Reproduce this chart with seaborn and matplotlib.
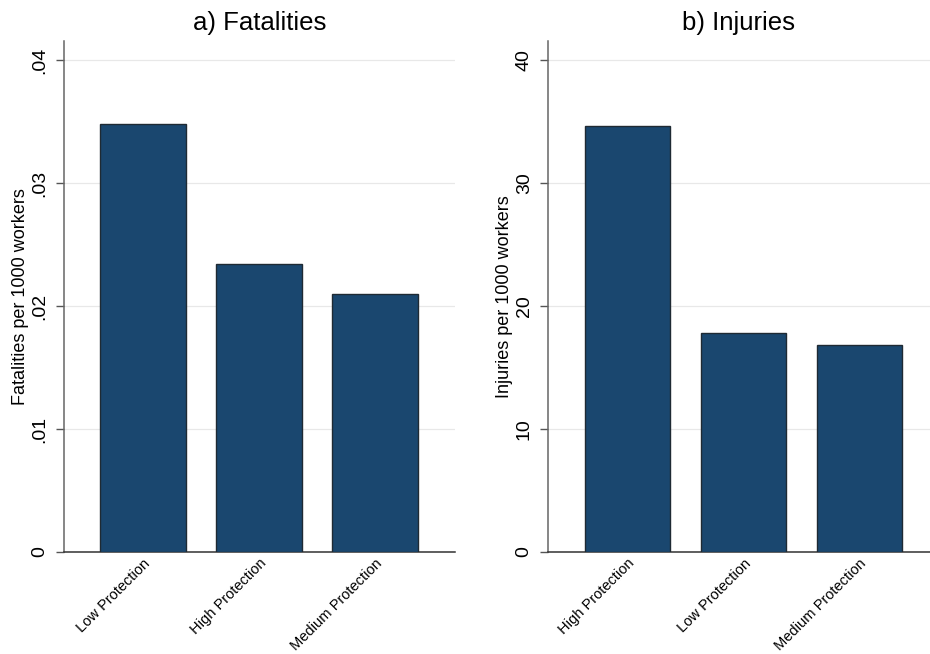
import matplotlib
matplotlib.use("Agg")
import matplotlib.pyplot as plt
import seaborn as sns
import pandas as pd

# Rates by protection level
fatal_categories = ["Low Protection", "High Protection", "Medium Protection"]
fatal_values = [0.0348, 0.0234, 0.0210]

injury_categories = ["High Protection", "Low Protection", "Medium Protection"]
injury_values = [34.6, 17.8, 16.8]

fatal_ticks = [0, 0.01, 0.02, 0.03, 0.04]
fatal_tick_labels = ["0", ".01", ".02", ".03", ".04"]
injury_ticks = [0, 10, 20, 30, 40]
injury_tick_labels = ["0", "10", "20", "30", "40"]

sns.set_style("white")
plt.rcParams["font.family"] = ["Liberation Sans", "DejaVu Sans"]
plt.rcParams["text.color"] = "black"
plt.rcParams["axes.labelcolor"] = "black"
plt.rcParams["xtick.color"] = "black"
plt.rcParams["ytick.color"] = "black"

BAR = "#1a476f"
EDGE = "#1f2a33"

fig = plt.figure(figsize=(9.3, 6.54), dpi=100)
W, H = 930, 654


def add_axes(x0, x1, y_top, y_bot):
    return fig.add_axes([x0 / W, 1 - y_bot / H, (x1 - x0) / W, (y_bot - y_top) / H])


ax1 = add_axes(64, 455, 41, 552)
ax2 = add_axes(548, 930, 41, 552)

panels = [
    (ax1, fatal_categories, fatal_values, "a) Fatalities", "Fatalities per 1000 workers",
     fatal_ticks, fatal_tick_labels, 0.04154, (-0.68, 2.69)),
    (ax2, injury_categories, injury_values, "b) Injuries", "Injuries per 1000 workers",
     injury_ticks, injury_tick_labels, 41.54, (-0.685, 2.608)),
]

for ax, cats, vals, title, ylabel, ticks, tlabels, ymax, xlim in panels:
    df = pd.DataFrame({"cat": cats, "val": vals})
    sns.barplot(data=df, x="cat", y="val", order=cats, color=BAR, saturation=1,
                width=0.74, edgecolor=EDGE, linewidth=1.0, ax=ax, zorder=3)
    ax.set_ylim(0, ymax)
    ax.set_xlim(*xlim)
    ax.set_yticks(ticks)
    ax.set_yticklabels(tlabels, rotation=90, va="center", fontsize=14)
    ax.set_xticks(range(len(cats)))
    ax.set_xticklabels(cats, rotation=45, ha="right", rotation_mode="anchor", fontsize=10.5)
    ax.tick_params(axis="y", direction="out", length=6, width=1, color="#555555", pad=5, left=True)
    ax.tick_params(axis="x", length=0, pad=3)
    ax.grid(axis="y", color="#e8e8e8", linewidth=0.9, zorder=0)
    ax.set_axisbelow(True)
    for s in ["top", "right"]:
        ax.spines[s].set_visible(False)
    ax.spines["left"].set_color("#666666")
    ax.spines["left"].set_linewidth(1.1)
    ax.spines["bottom"].set_color("#333333")
    ax.spines["bottom"].set_linewidth(1.1)
    ax.set_xlabel("")
    ax.set_ylabel(ylabel, fontsize=13, labelpad=2)
    ax.set_title(title, fontsize=18.5, pad=8)

fig.savefig("out.png", dpi=100, facecolor="white")
